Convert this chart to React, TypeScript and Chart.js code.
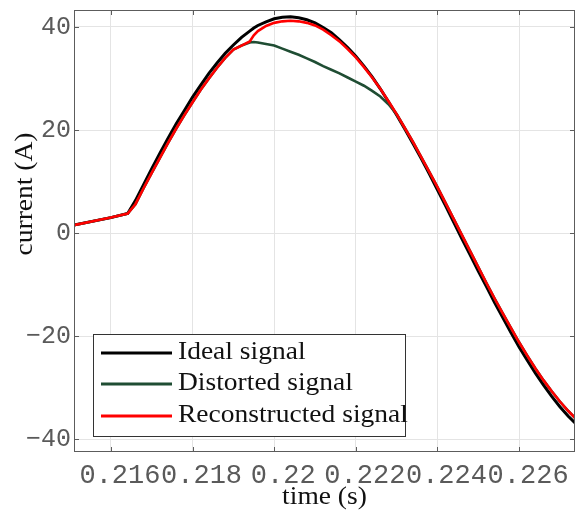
import React, { useEffect, useRef } from 'react';
import { Chart, registerables } from 'chart.js';

Chart.register(...registerables);

// ---- data ----
const timeS = [
  0.2150, 0.2160, 0.21641, 0.2166, 0.2168, 0.2170, 0.2172, 0.2174, 0.2176, 0.2178,
  0.2180, 0.2182, 0.2184, 0.2186, 0.2188, 0.2190, 0.2192, 0.2194, 0.2195, 0.2196,
  0.2198, 0.2200, 0.2202, 0.2204, 0.2206, 0.2208, 0.2210, 0.2212, 0.2214, 0.2216,
  0.2218, 0.2220, 0.2222, 0.2224, 0.2226, 0.2228, 0.2230, 0.2232, 0.2234, 0.2236,
  0.2238, 0.2240, 0.2242, 0.2244, 0.2246, 0.2248, 0.2250, 0.2252, 0.2254, 0.2256,
  0.2258, 0.2260, 0.2262, 0.2264, 0.2266, 0.2268, 0.2270, 0.2272, 0.2274,
];

const idealA = [
  1.4, 3.0, 3.8, 6.3, 9.4, 12.5, 15.5, 18.4, 21.2, 23.8,
  26.4, 28.7, 31.0, 33.0, 34.9, 36.5, 38.0, 39.2, 39.8, 40.3,
  41.0, 41.6, 41.9, 42.0, 41.8, 41.4, 40.8, 39.9, 38.9, 37.5,
  36.0, 34.3, 32.4, 30.3, 28.0, 25.5, 22.9, 20.2, 17.4, 14.5,
  11.5, 8.4, 5.3, 2.1, -1.1, -4.2, -7.4, -10.4, -13.5, -16.4,
  -19.3, -22.1, -24.7, -27.2, -29.5, -31.7, -33.7, -35.5, -37.1,
];

const distortedA = [
  1.4, 3.0, 3.8, 5.6, 8.7, 11.7, 14.6, 17.5, 20.3, 22.9,
  25.4, 27.8, 30.0, 32.1, 34.0, 35.6, 36.4, 37.0, 37.1, 37.0,
  36.7, 36.4, 35.8, 35.2, 34.6, 33.9, 33.2, 32.4, 31.7, 31.0,
  30.2, 29.4, 28.6, 27.6, 26.5, 25.0, 23.1, 20.4, 17.7, 14.8,
  11.9, 8.9, 5.8, 2.7, -0.4, -3.5, -6.6, -9.7, -12.7, -15.6,
  -18.4, -21.2, -23.8, -26.3, -28.6, -30.7, -32.7, -34.5, -36.1,
];

const reconstructedA = [
  1.4, 3.0, 3.8, 5.6, 8.7, 11.7, 14.6, 17.5, 20.3, 22.9,
  25.4, 27.8, 30.0, 32.1, 34.0, 35.6, 36.4, 37.2, 38.4, 39.2,
  40.2, 40.8, 41.1, 41.2, 41.1, 40.8, 40.3, 39.5, 38.4, 37.2,
  35.7, 34.1, 32.2, 30.2, 28.0, 25.6, 23.1, 20.4, 17.7, 14.8,
  11.9, 8.9, 5.8, 2.7, -0.4, -3.5, -6.6, -9.7, -12.7, -15.6,
  -18.4, -21.2, -23.8, -26.3, -28.6, -30.7, -32.7, -34.5, -36.1,
];

const xTickValues = [0.216, 0.218, 0.22, 0.222, 0.224, 0.226];
const xTickLabels = ['0.216', '0.218', '0.22', '0.222', '0.224', '0.226'];
const yTickValues = [-40, -20, 0, 20, 40];
const yTickLabels = ['\u221240', '\u221220', '0', '20', '40'];

const seriesNames = ['Ideal signal', 'Distorted signal', 'Reconstructed signal'];
const seriesColors = ['#000000', '#1f4d33', '#ff0000'];
const xTitle = 'time (s)';
const yTitle = 'current (A)';

const X_MIN = 0.215095;
const X_MAX = 0.22737;
const Y_MIN = -42.5;
const Y_MAX = 43.3;

const SERIF = "'Liberation Serif', 'Times New Roman', serif";
const MONO = "'Liberation Mono', 'Courier New', monospace";

const overlayPlugin = {
  id: 'overlay',
  afterDraw(chart: any) {
    const { ctx, chartArea: a, scales } = chart;
    ctx.save();
    // frame
    ctx.strokeStyle = '#5c5c5c';
    ctx.lineWidth = 1;
    ctx.strokeRect(Math.round(a.left) + 0.5, Math.round(a.top) + 0.5,
      Math.round(a.right - a.left) - 1, Math.round(a.bottom - a.top) - 1);
    // inward ticks
    const tl = 5;
    ctx.beginPath();
    xTickValues.forEach((v) => {
      const x = Math.round(scales.x.getPixelForValue(v)) + 0.5;
      ctx.moveTo(x, a.bottom);
      ctx.lineTo(x, a.bottom - tl);
      ctx.moveTo(x, a.top);
      ctx.lineTo(x, a.top + tl);
    });
    yTickValues.forEach((v) => {
      const y = Math.round(scales.y.getPixelForValue(v)) + 0.5;
      ctx.moveTo(a.left, y);
      ctx.lineTo(a.left + tl, y);
      ctx.moveTo(a.right, y);
      ctx.lineTo(a.right - tl, y);
    });
    ctx.stroke();

    // axis titles
    ctx.fillStyle = '#111';
    ctx.font = `25px ${SERIF}`;
    ctx.textBaseline = 'alphabetic';
    ctx.textAlign = 'center';
    ctx.save();
    ctx.translate((a.left + a.right) / 2, 504);
    ctx.scale(1.1, 1);
    ctx.fillText(xTitle, 0, 0);
    ctx.restore();

    ctx.save();
    ctx.translate(31.5, 194);
    ctx.rotate(-Math.PI / 2);
    ctx.scale(1.1, 1);
    ctx.fillText(yTitle, 0, 0);
    ctx.restore();

    // legend
    const bx = 93, by = 334, bw = 312, bh = 102;
    ctx.fillStyle = '#ffffff';
    ctx.fillRect(bx, by, bw, bh);
    ctx.strokeStyle = '#333';
    ctx.lineWidth = 1;
    ctx.strokeRect(bx + 0.5, by + 0.5, bw, bh);
    const rowY = [353, 384, 416];
    seriesNames.forEach((name, i) => {
      ctx.strokeStyle = seriesColors[i];
      ctx.lineWidth = 3;
      ctx.beginPath();
      ctx.moveTo(101, rowY[i]);
      ctx.lineTo(172, rowY[i]);
      ctx.stroke();
      ctx.fillStyle = '#111';
      ctx.textAlign = 'left';
      ctx.save();
      ctx.translate(178, rowY[i] + 6);
      ctx.scale(1.1, 1);
      ctx.fillText(name, 0, 0);
      ctx.restore();
    });
    ctx.restore();
  },
};

function toPoints(vals: number[]) {
  return vals.map((v, i) => ({ x: timeS[i], y: v }));
}

export default function App() {
  const canvasRef = useRef<HTMLCanvasElement | null>(null);

  useEffect(() => {
    const canvas = canvasRef.current;
    if (!canvas) return;
    const chart = new Chart(canvas, {
      type: 'line',
      data: {
        datasets: [
          {
            label: seriesNames[2],
            data: toPoints(reconstructedA),
            borderColor: seriesColors[2],
            borderWidth: 2.6,
            pointRadius: 0,
            tension: 0,
            fill: false,
          },
          {
            label: seriesNames[1],
            data: toPoints(distortedA),
            borderColor: seriesColors[1],
            borderWidth: 2.6,
            pointRadius: 0,
            tension: 0,
            fill: false,
          },
          {
            label: seriesNames[0],
            data: toPoints(idealA),
            borderColor: seriesColors[0],
            borderWidth: 3,
            pointRadius: 0,
            tension: 0,
            fill: false,
          },
        ],
      },
      options: {
        animation: false,
        responsive: false,
        devicePixelRatio: 1,
        layout: { padding: { left: 0, right: 1, top: 10, bottom: 0 } },
        plugins: {
          legend: { display: false },
          tooltip: { enabled: false },
          title: { display: false },
        },
        scales: {
          x: {
            type: 'linear',
            min: X_MIN,
            max: X_MAX,
            afterBuildTicks: (scale: any) => {
              scale.ticks = xTickValues.map((v) => ({ value: v }));
            },
            afterFit: (scale: any) => {
              scale.height = 67;
              scale.paddingLeft = 0;
              scale.paddingRight = 0;
            },
            ticks: {
              autoSkip: false,
              maxRotation: 0,
              minRotation: 0,
              padding: 8,
              labelOffset: 9,
              color: '#5a5a5a',
              font: { family: MONO, size: 27 },
              callback: (_v: any, i: number) => xTickLabels[i],
            },
            grid: { color: '#e4e4e4', drawTicks: false, lineWidth: 1 },
            border: { display: false },
          },
          y: {
            type: 'linear',
            min: Y_MIN,
            max: Y_MAX,
            afterBuildTicks: (scale: any) => {
              scale.ticks = yTickValues.map((v) => ({ value: v }));
            },
            afterFit: (scale: any) => {
              scale.width = 74;
              scale.paddingTop = 0;
              scale.paddingBottom = 0;
            },
            ticks: {
              autoSkip: false,
              padding: 3,
              color: '#5a5a5a',
              font: { family: MONO, size: 25 },
              callback: (_v: any, i: number) => yTickLabels[i],
            },
            grid: { color: '#e4e4e4', drawTicks: false, lineWidth: 1 },
            border: { display: false },
          },
        },
      },
      plugins: [overlayPlugin],
    } as any);
    return () => chart.destroy();
  }, []);

  return (
    <div style={{ position: 'absolute', left: 0, top: 0, width: 576, height: 519, background: '#fff' }}>
      <canvas ref={canvasRef} width={576} height={519} style={{ display: 'block' }} />
    </div>
  );
}
